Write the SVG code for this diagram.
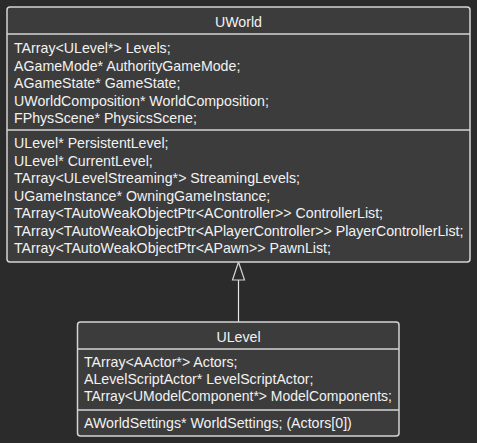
<svg xmlns="http://www.w3.org/2000/svg" width="477" height="443" viewBox="0 0 477 443">
<style>
.bg{fill:#2b2b2b}
.box{fill:#3c3c3c;stroke:#d4d4d4;stroke-width:1.5}
.sep{stroke:#d4d4d4;stroke-width:1.5}
text{font-family:"Liberation Sans",Arial,sans-serif;font-size:14.2px;fill:#f2f2f2}
.title{text-anchor:middle}
.conn{stroke:#e8e8e8;stroke-width:1.2;fill:none}
.head{fill:#2b2b2b;stroke:#d4d4d4;stroke-width:1.2}
</style>
<rect class="bg" x="0" y="0" width="477" height="443"/>
<g id="connectors">
<line class="conn" x1="238.5" y1="280" x2="238.5" y2="322"/>
<polygon class="head" points="238.5,262 232.5,280 244.5,280"/>
</g>
<g id="UWorld">
<rect class="box" x="7" y="7" width="463" height="255" rx="3"/>
<line class="sep" x1="7" y1="34" x2="470" y2="34"/>
<line class="sep" x1="7" y1="130" x2="470" y2="130"/>
<text class="title" x="238.5" y="26.5">UWorld</text>
<text x="14" y="53.3">TArray&lt;ULevel*&gt; Levels;</text>
<text x="14" y="71">AGameMode* AuthorityGameMode;</text>
<text x="14" y="88.3">AGameState* GameState;</text>
<text x="14" y="106">UWorldComposition* WorldComposition;</text>
<text x="14" y="123.3">FPhysScene* PhysicsScene;</text>
<text x="14" y="148.3">ULevel* PersistentLevel;</text>
<text x="14" y="166">ULevel* CurrentLevel;</text>
<text x="14" y="183.3">TArray&lt;ULevelStreaming*&gt; StreamingLevels;</text>
<text x="14" y="200.7">UGameInstance* OwningGameInstance;</text>
<text x="14" y="218.3">TArray&lt;TAutoWeakObjectPtr&lt;AController&gt;&gt; ControllerList;</text>
<text x="14" y="236">TArray&lt;TAutoWeakObjectPtr&lt;APlayerController&gt;&gt; PlayerControllerList;</text>
<text x="14" y="253.3">TArray&lt;TAutoWeakObjectPtr&lt;APawn&gt;&gt; PawnList;</text>
</g>
<g id="ULevel">
<rect class="box" x="77.5" y="322" width="321.5" height="114" rx="3"/>
<line class="sep" x1="77.5" y1="349" x2="399" y2="349"/>
<line class="sep" x1="77.5" y1="410" x2="399" y2="410"/>
<text class="title" x="238.5" y="341.7">ULevel</text>
<text x="84" y="367.3">TArray&lt;AActor*&gt; Actors;</text>
<text x="84" y="384">ALevelScriptActor* LevelScriptActor;</text>
<text x="84" y="401" textLength="308" lengthAdjust="spacingAndGlyphs">TArray&lt;UModelComponent*&gt; ModelComponents;</text>
<text x="84" y="428.3">AWorldSettings* WorldSettings; (Actors[0])</text>
</g>
</svg>
